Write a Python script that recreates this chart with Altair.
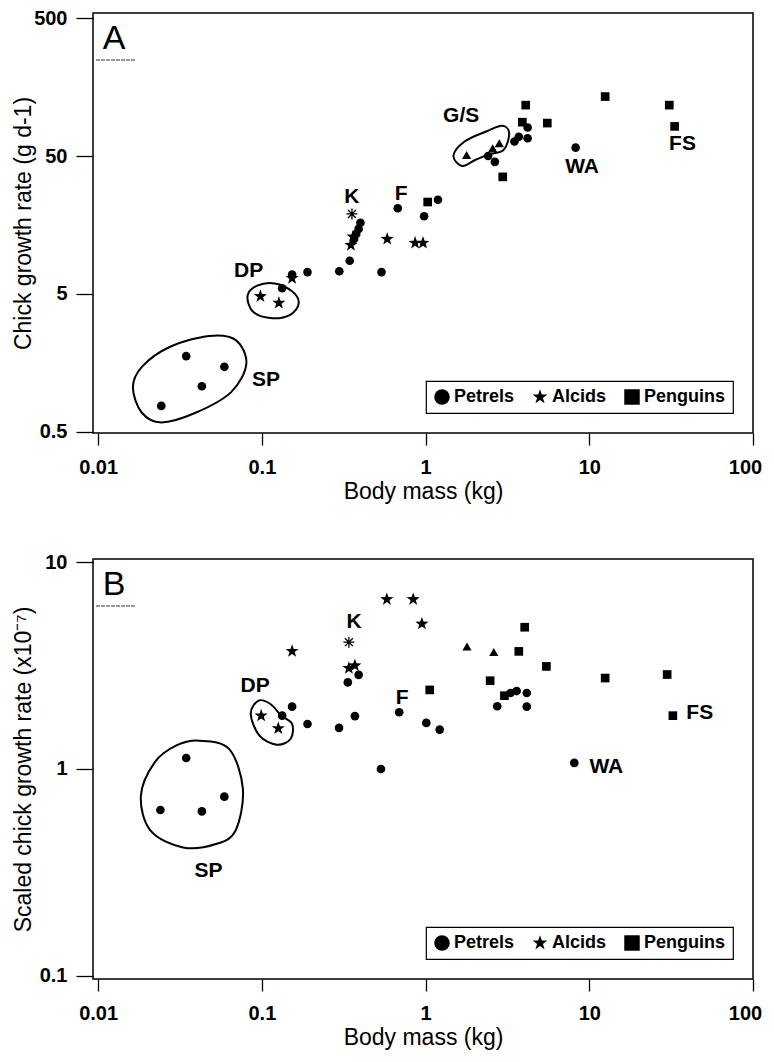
import altair as alt
import pandas as pd

FONT = "Liberation Sans, Arial, sans-serif"

# ---------------- Panel A: chick growth rate (g d-1) vs body mass (kg)
A_petrel_mass = [0.0345, 0.059, 0.043, 0.0243, 0.133, 0.153, 0.19, 0.297, 0.344, 0.538,
                 0.40, 0.39, 0.377, 0.366, 0.676, 0.98, 1.19, 2.41, 2.65, 3.49, 3.71, 4.2, 4.2, 8.25]
A_petrel_rate = [1.77, 1.48, 1.07, 0.77, 5.5, 6.9, 7.2, 7.3, 8.7, 7.2,
                 16.4, 14.8, 13.6, 12.5, 20.9, 18.3, 24.1, 50, 45.4, 63.7, 69, 67.3, 80.5, 57.5]
A_alcid_mass = [0.098, 0.127, 0.153, 0.35, 0.36, 0.583, 0.863, 0.964]
A_alcid_rate = [4.8, 4.3, 6.5, 11.3, 13.0, 12.5, 11.7, 11.7]
A_penguin_mass = [1.03, 2.96, 3.9, 4.09, 5.54, 12.5, 30.8, 33.2]
A_penguin_rate = [23.2, 35.3, 88, 117, 86.7, 135, 117, 82]
A_sulid_mass = [1.78, 2.57, 2.82]
A_sulid_rate = [50.8, 57, 62]
A_kitti_mass = [0.355]
A_kitti_rate = [19.0]

A_label_text = ["SP", "DP", "K", "F", "G/S", "WA", "FS"]
A_label_mass = [0.106, 0.083, 0.355, 0.71, 1.65, 9.04, 37.1]
A_label_rate = [1.18, 7.3, 25.2, 26.7, 97, 41.8, 60.8]

A_SP_mass = [0.0163, 0.01845, 0.0243, 0.0397, 0.0649, 0.0804, 0.069, 0.0478, 0.0275, 0.0185]
A_SP_rate = [1.05, 0.69, 0.585, 0.69, 0.97, 1.56, 2.32, 2.48, 2.07, 1.48]
A_DP_mass = [0.0818, 0.0937, 0.12, 0.153, 0.168, 0.149, 0.1127, 0.088]
A_DP_rate = [4.86, 5.75, 5.96, 5.22, 4.29, 3.53, 3.34, 3.73]
A_GS_mass = [1.48, 1.73, 2.34, 2.94, 3.24, 3.0, 2.42, 2.01, 1.67]
A_GS_rate = [50.2, 63.7, 75.3, 82.8, 73.3, 55.4, 51.4, 46.8, 42.3]

# ---------------- Panel B: scaled chick growth rate (x10^-7) vs body mass (kg)
B_petrel_mass = [0.0345, 0.024, 0.043, 0.059, 0.133, 0.153, 0.19, 0.296, 0.37, 0.335, 0.39,
                 0.534, 0.69, 1.01, 1.22, 2.74, 3.3, 3.6, 4.15, 4.15, 8.1]
B_petrel_rate = [1.13, 0.634, 0.624, 0.735, 1.81, 2.0, 1.65, 1.58, 1.80, 2.62, 2.85,
                 1.0, 1.88, 1.67, 1.55, 2.01, 2.33, 2.38, 2.33, 2.0, 1.07]
B_alcid_mass = [0.099, 0.126, 0.153, 0.34, 0.37, 0.58, 0.84, 0.95]
B_alcid_rate = [1.81, 1.57, 3.71, 3.07, 3.16, 6.6, 6.6, 5.03]
B_penguin_mass = [1.06, 2.48, 3.03, 3.71, 4.03, 5.47, 12.5, 29.9, 32.4]
B_penguin_rate = [2.41, 2.67, 2.26, 3.7, 4.84, 3.13, 2.75, 2.86, 1.81]
B_sulid_mass = [1.79, 2.61]
B_sulid_rate = [3.91, 3.67]
B_kitti_mass = [0.34]
B_kitti_rate = [4.1]

B_label_text = ["SP", "DP", "K", "F", "WA", "FS"]
B_label_mass = [0.0472, 0.091, 0.366, 0.72, 12.7, 47.3]
B_label_rate = [0.322, 2.53, 5.13, 2.2, 1.02, 1.86]

B_SP_mass = [0.0415, 0.063, 0.0766, 0.069, 0.0524, 0.033, 0.0209, 0.01824, 0.0222, 0.0301]
B_SP_rate = [1.37, 1.25, 0.80, 0.504, 0.434, 0.418, 0.504, 0.743, 1.08, 1.30]
B_DP_mass = [0.0855, 0.0955, 0.1127, 0.1315, 0.153, 0.150, 0.1236, 0.0966]
B_DP_rate = [1.85, 2.14, 2.06, 1.81, 1.65, 1.40, 1.31, 1.45]

GROUPS = ["Petrels", "Alcids", "Penguins"]
STAR = ("M0,-1L0.235,-0.324L0.951,-0.309L0.38,0.124L0.588,0.809L0,0.4"
        "L-0.588,0.809L-0.38,0.124L-0.951,-0.309L-0.235,-0.324Z")
ASTERISK = "M0,-1L0,1M-1,0L1,0M-0.72,-0.72L0.72,0.72M-0.72,0.72L0.72,-0.72"


def panel(letter, pet, alc, pen, sul, kit, labels, outlines, ydomain, yvalues, ytitle):
    xscale = alt.Scale(type="log", domain=[0.0093, 100], nice=False)
    yscale = alt.Scale(type="log", domain=ydomain, nice=False)
    xaxis = alt.Axis(values=[0.01, 0.1, 1, 10, 100], format="~g", title="Body mass (kg)",
                     tickSize=12, labelPadding=12, labelFlush=False, labelOverlap=False,
                     labelOffset={"condition": {"test": "datum.value >= 100", "value": -8}, "value": 0},
                     grid=False, domain=False, titlePadding=3)
    yaxis = alt.Axis(values=yvalues, format="~g", title=ytitle,
                     tickSize=17, labelPadding=9, labelFlush=False, labelOverlap=False,
                     grid=False, domain=False, minExtent=55, maxExtent=55, titlePadding=3)
    X = alt.X("mass:Q", scale=xscale, axis=xaxis)
    Y = alt.Y("rate:Q", scale=yscale, axis=yaxis)

    rows = []
    for g, (m, r) in zip(GROUPS, [pet, alc, pen]):
        rows += [{"mass": a, "rate": b, "group": g} for a, b in zip(m, r)]
    main = alt.Chart(pd.DataFrame(rows)).mark_point(filled=True, color="black", opacity=1).encode(
        x=X, y=Y,
        shape=alt.Shape("group:N", scale=alt.Scale(domain=GROUPS, range=["circle", STAR, "square"]),
                        legend=alt.Legend(title=None)),
        size=alt.condition(alt.datum.group == "Alcids", alt.value(190), alt.value(75)),
    )
    tri = alt.Chart(pd.DataFrame({"mass": sul[0], "rate": sul[1]})).mark_point(
        filled=True, color="black", opacity=1, shape="triangle-up", size=85).encode(x=X, y=Y)
    ast = alt.Chart(pd.DataFrame({"mass": kit[0], "rate": kit[1]})).mark_point(
        filled=False, color="black", opacity=1, shape=ASTERISK, size=120, strokeWidth=1.3).encode(x=X, y=Y)

    orows = []
    for name, (m, r) in outlines.items():
        orows += [{"mass": a, "rate": b, "name": name, "idx": i} for i, (a, b) in enumerate(zip(m, r))]
    outl = alt.Chart(pd.DataFrame(orows)).mark_line(
        color="black", strokeWidth=2, interpolate="cardinal-closed").encode(
        x=X, y=Y, detail="name:N", order="idx:Q")

    txt = alt.Chart(pd.DataFrame({"mass": labels[1], "rate": labels[2], "t": labels[0]})).mark_text(
        font=FONT, fontSize=21, fontWeight="bold", color="black", align="center", baseline="middle"
    ).encode(x=X, y=Y, text="t:N")

    one = pd.DataFrame({"t": [letter]})
    let = alt.Chart(one).mark_text(font=FONT, fontSize=34, color="black", align="center",
                                   baseline="alphabetic").encode(
        text="t:N", x=alt.value(21), y=alt.value(36))
    dash = alt.Chart(one).mark_rule(color="#333333", strokeWidth=1, strokeDash=[4, 1]).encode(
        x=alt.value(3), x2=alt.value(42), y=alt.value(47))

    return alt.layer(outl, main, tri, ast, txt, let, dash).properties(width=660, height=420)


pA = panel("A",
           (A_petrel_mass, A_petrel_rate), (A_alcid_mass, A_alcid_rate),
           (A_penguin_mass, A_penguin_rate), (A_sulid_mass, A_sulid_rate),
           (A_kitti_mass, A_kitti_rate),
           (A_label_text, A_label_mass, A_label_rate),
           {"SP": (A_SP_mass, A_SP_rate), "DP": (A_DP_mass, A_DP_rate), "GS": (A_GS_mass, A_GS_rate)},
           [0.49, 545], [0.5, 5, 50, 500], "Chick growth rate (g d-1)")
pB = panel("B",
           (B_petrel_mass, B_petrel_rate), (B_alcid_mass, B_alcid_rate),
           (B_penguin_mass, B_penguin_rate), (B_sulid_mass, B_sulid_rate),
           (B_kitti_mass, B_kitti_rate),
           (B_label_text, B_label_mass, B_label_rate),
           {"SP": (B_SP_mass, B_SP_rate), "DP": (B_DP_mass, B_DP_rate)},
           [0.0967, 10.34], [0.1, 1, 10], "Scaled chick growth rate (x10\u207b\u2077)")

chart = alt.vconcat(pA, pB, spacing=47).resolve_scale(
    x="independent", y="independent", shape="independent"
).resolve_legend(shape="independent").properties(
    padding={"left": 3, "top": -1, "right": 3, "bottom": 0}
).configure_view(stroke="black", strokeWidth=1.5).configure_axis(
    labelFont=FONT, labelFontSize=20, labelFontWeight="bold", labelColor="black",
    titleFont=FONT, titleFontSize=23, titleFontWeight="normal", titleColor="black",
    tickColor="black", tickWidth=1.3,
).configure_legend(
    orient="bottom-right", direction="horizontal", offset=20, padding=7,
    strokeColor="black", strokeWidth=1.2, fillColor="white", cornerRadius=0,
    labelFont=FONT, labelFontSize=18, labelFontWeight="bold", labelColor="black",
    symbolSize=240, symbolFillColor="black", symbolStrokeWidth=0, symbolOpacity=1,
    columnPadding=16, labelOffset=3,
)

chart.save("out.html", embed_options={"renderer": "svg", "actions": False})
